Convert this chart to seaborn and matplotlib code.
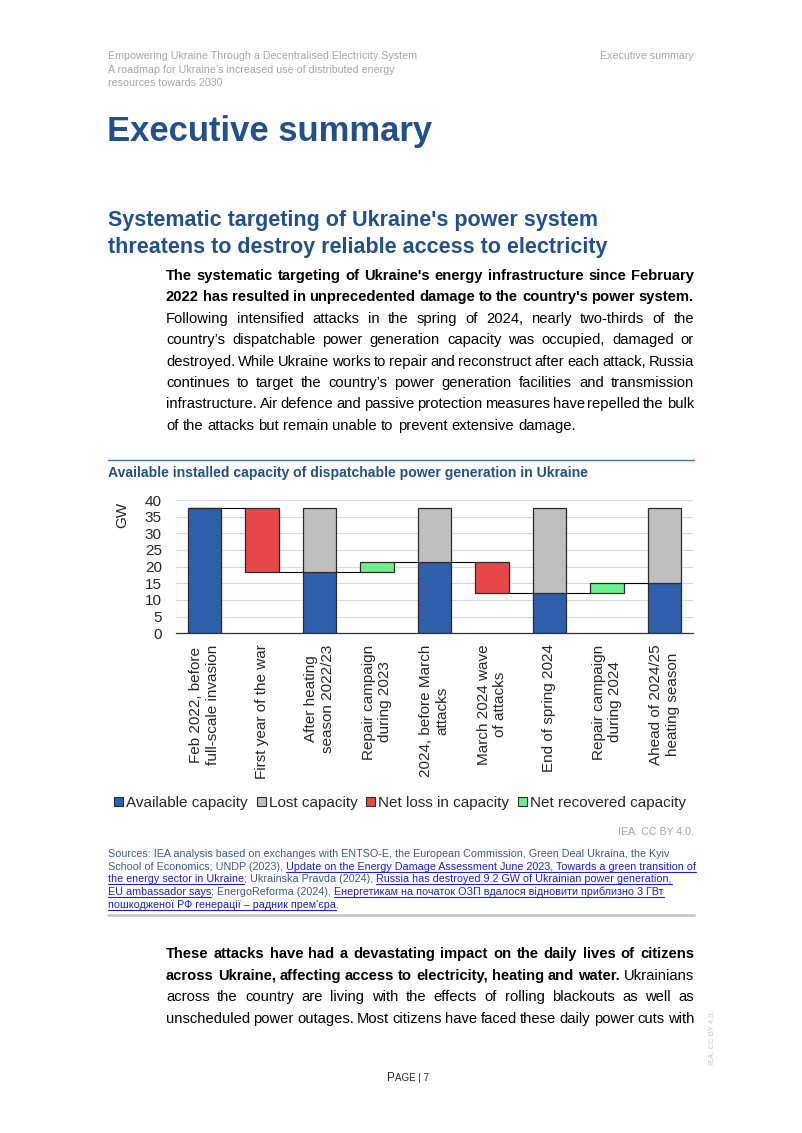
import numpy as np
import pandas as pd
import matplotlib
matplotlib.use("Agg")
import matplotlib.pyplot as plt
import matplotlib.patches as mpatches
import seaborn as sns

# ── Data ────────────────────────────────────────────────
categories = [
    "Feb 2022, before\nfull-scale invasion",
    "First year of the war",
    "After heating\nseason 2022/23",
    "Repair campaign\nduring 2023",
    "2024, before March\nattacks",
    "March 2024 wave\nof attacks",
    "End of spring 2024",
    "Repair campaign\nduring 2024",
    "Ahead of 2024/25\nheating season",
]
total_capacity = 37.6
# available capacity at each "state" column (None = change column)
available = [37.6, None, 18.4, None, 21.4, None, 12.2, None, 15.1]
# change columns: (bottom, top)
net_loss = {1: (18.4, 37.6), 5: (12.2, 21.4)}
net_recovered = {3: (18.4, 21.4), 7: (12.2, 15.1)}
yticks = [0, 5, 10, 15, 20, 25, 30, 35, 40]

legend_labels = ["Available capacity", "Lost capacity", "Net loss in capacity", "Net recovered capacity"]

# ── Style ───────────────────────────────────────────────
sns.set_theme(style="white")
plt.rcParams['font.family'] = ['Liberation Sans', 'DejaVu Sans']
BLUE_T = "#24508a"
C_AVAIL = "#2f5fab"
C_LOST = "#bfbfbf"
C_LOSS = "#e84849"
C_REC = "#6cf08e"
EDGE = "#2b2b2b"
GREY_T = "#a6a6a6"
BODY = 10.6

W, H = 802, 1133
fig = plt.figure(figsize=(W / 100, H / 100), dpi=100)
fig.patch.set_facecolor("white")
page = fig.add_axes([0, 0, 1, 1])
page.set_xlim(0, W)
page.set_ylim(H, 0)
page.axis("off")
renderer = fig.canvas.get_renderer()


def text_width(t):
    return t.get_window_extent(renderer).width


def put_line(runs, x0, x1, y, size, justify=True, color="black"):
    words = []
    for txt, weight in runs:
        for w in txt.split():
            words.append((w, weight))
    arts = [page.text(x0, y, w, fontsize=size, fontweight=wt, color=color,
                      va="baseline", ha="left") for w, wt in words]
    widths = [text_width(a) for a in arts]
    if justify and len(words) > 1:
        gap = (x1 - x0 - sum(widths)) / (len(words) - 1)
    else:
        gap = size * 100 / 72 * 0.278
    x = x0
    for a, wd in zip(arts, widths):
        a.set_x(x)
        x += wd + gap


def put_runs(runs, x0, y, size):
    # runs drawn one after another; links get an underline
    x = x0
    for txt, kind in runs:
        col = "#2020d0" if kind == "link" else "#3f5b86"
        t = page.text(x, y, txt, fontsize=size, color=col, va="baseline", ha="left")
        wd = text_width(t)
        if kind == "link":
            page.plot([x, x + wd], [y + 1.8, y + 1.8], color=col, lw=0.8)
        x += wd


# ── Header ──────────────────────────────────────────────
HDR = 7.7
page.text(108, 59, "Empowering Ukraine Through a Decentralised Electricity System", fontsize=HDR, color=GREY_T, va="baseline")
page.text(108, 73, "A roadmap for Ukraine’s increased use of distributed energy", fontsize=HDR, color=GREY_T, va="baseline")
page.text(108, 86, "resources towards 2030", fontsize=HDR, color=GREY_T, va="baseline")
page.text(694, 59, "Executive summary", fontsize=HDR, color=GREY_T, va="baseline", ha="right")

page.text(107, 141, "Executive summary", fontsize=24.9, fontweight="bold", color=BLUE_T, va="baseline")
page.text(108, 226, "Systematic targeting of Ukraine's power system", fontsize=15.5, fontweight="bold", color=BLUE_T, va="baseline")
page.text(108, 252.5, "threatens to destroy reliable access to electricity", fontsize=15.5, fontweight="bold", color=BLUE_T, va="baseline")

# ── Paragraph 1 ─────────────────────────────────────────
para1 = [
    ([("The systematic targeting of Ukraine's energy infrastructure since February", "bold")], True),
    ([("2022 has resulted in unprecedented damage to the country's power system.", "bold")], True),
    ([("Following intensified attacks in the spring of 2024, nearly two-thirds of the", "normal")], True),
    ([("country’s dispatchable power generation capacity was occupied, damaged or", "normal")], True),
    ([("destroyed. While Ukraine works to repair and reconstruct after each attack, Russia", "normal")], True),
    ([("continues to target the country’s power generation facilities and transmission", "normal")], True),
    ([("infrastructure. Air defence and passive protection measures have repelled the bulk", "normal")], True),
    ([("of the attacks but remain unable to prevent extensive damage.", "normal")], False),
]
for k, (runs, just) in enumerate(para1):
    put_line(runs, 166, 694, 280 + 21.4 * k, BODY, justify=just)

# ── Chart ───────────────────────────────────────────────
page.plot([108, 694], [460, 460], color="#4f6f9f", lw=1)
page.text(108, 477, "Available installed capacity of dispatchable power generation in Ukraine",
          fontsize=10.1, fontweight="bold", color=BLUE_T, va="baseline")

ax = fig.add_axes([175.75 / W, 1 - 633.3 / H, (693.25 - 175.75) / W, (633.3 - 500) / H])
n = len(categories)
idx = list(range(n))
bw = 0.575

avail_df = pd.DataFrame({"cat": [categories[i] for i in idx if available[i] is not None],
                         "val": [available[i] for i in idx if available[i] is not None]})
lost_df = pd.DataFrame({"cat": avail_df["cat"], "val": total_capacity - avail_df["val"],
                        "bottom": avail_df["val"]})
loss_df = pd.DataFrame({"cat": [categories[i] for i in net_loss],
                        "val": [t - b for b, t in net_loss.values()],
                        "bottom": [b for b, t in net_loss.values()]})
rec_df = pd.DataFrame({"cat": [categories[i] for i in net_recovered],
                       "val": [t - b for b, t in net_recovered.values()],
                       "bottom": [b for b, t in net_recovered.values()]})

bar_kw = dict(order=categories, width=bw, edgecolor=EDGE, linewidth=0.9, errorbar=None, ax=ax)
sns.barplot(data=avail_df, x="cat", y="val", color=C_AVAIL, saturation=1, **bar_kw)
sns.barplot(data=lost_df, x="cat", y="val", bottom=lost_df["bottom"].values, color=C_LOST, saturation=1, **bar_kw)
sns.barplot(data=loss_df, x="cat", y="val", bottom=loss_df["bottom"].values, color=C_LOSS, saturation=1, **bar_kw)
sns.barplot(data=rec_df, x="cat", y="val", bottom=rec_df["bottom"].values, color=C_REC, saturation=1, **bar_kw)

# connector lines
levels = []
for i in idx:
    if available[i] is not None:
        levels.append(available[i])
    elif i in net_loss:
        levels.append(net_loss[i][0])
    else:
        levels.append(net_recovered[i][1])
for i in range(n - 1):
    ax.hlines(levels[i], i + bw / 2, i + 1 - bw / 2, color="black", lw=0.8, zorder=3)

ax.set_xlim(-0.5, n - 0.5)
ax.set_ylim(0, 40)
ax.set_yticks(yticks)
ax.set_yticklabels([str(v) for v in yticks], fontsize=11)
ax.yaxis.grid(True, color="#d9d9d9", lw=0.8)
ax.set_axisbelow(True)
for s in ["top", "right", "left"]:
    ax.spines[s].set_visible(False)
ax.spines["bottom"].set_color("#333333")
ax.spines["bottom"].set_linewidth(0.9)
ax.tick_params(axis="y", length=0, pad=10)
ax.tick_params(axis="x", length=0, pad=8)
ax.set_xlabel("")
ax.set_ylabel("")
ax.set_xticks(idx)
ax.set_xticklabels(categories, rotation=90, fontsize=11, ha="center", va="top", multialignment="center")
page.text(122, 515, "GW", fontsize=11, rotation=90, ha="center", va="center")

handles = [mpatches.Patch(facecolor=c, edgecolor=EDGE, linewidth=0.8, label=l)
           for c, l in zip([C_AVAIL, C_LOST, C_LOSS, C_REC], legend_labels)]
fig.legend(handles=handles, loc="center", bbox_to_anchor=(400 / W, 1 - 803 / H), ncol=4, frameon=False,
           fontsize=11, handlelength=0.6, handleheight=0.6, handletextpad=0.2, columnspacing=0.55)

page.text(694, 835, "IEA. CC BY 4.0.", fontsize=7.7, color=GREY_T, va="baseline", ha="right")

# ── Sources ─────────────────────────────────────────────
src = [
    [("Sources: IEA analysis based on exchanges with ENTSO-E, the European Commission, Green Deal Ukraina, the Kyiv", "plain")],
    [("School of Economics; UNDP (2023), ", "plain"),
     ("Update on the Energy Damage Assessment June 2023, Towards a green transition of", "link")],
    [("the energy sector in Ukraine", "link"), ("; Ukrainska Pravda (2024), ", "plain"),
     ("Russia has destroyed 9.2 GW of Ukrainian power generation,", "link")],
    [("EU ambassador says", "link"), ("; EnergoReforma (2024), ", "plain"),
     ("Енергетикам на початок ОЗП вдалося відновити приблизно 3 ГВт", "link")],
    [("пошкодженої РФ генерації – радник прем'єра", "link"), (".", "plain")],
]
for k, runs in enumerate(src):
    put_runs(runs, 108, 857 + 12.7 * k, 7.75)
page.plot([108, 694], [915, 915], color="#c8c8c8", lw=2)

# ── Paragraph 2 ─────────────────────────────────────────
para2 = [
    [("These attacks have had a devastating impact on the daily lives of citizens", "bold")],
    [("across Ukraine, affecting access to electricity, heating and water.", "bold"), ("Ukrainians", "normal")],
    [("across the country are living with the effects of rolling blackouts as well as", "normal")],
    [("unscheduled power outages. Most citizens have faced these daily power cuts with", "normal")],
]
for k, runs in enumerate(para2):
    put_line(runs, 166, 694, 958 + 21.7 * k, BODY)

# ── Footer ──────────────────────────────────────────────
page.text(713, 1038, "IEA. CC BY 4.0.", fontsize=5.5, color="#c8c8c8", rotation=90, ha="center", va="center")
p1 = page.text(387, 1081, "P", fontsize=8.5, va="baseline", ha="left")
x_after = 387 + text_width(p1)
page.text(x_after, 1081, "AGE | 7", fontsize=7, va="baseline", ha="left")

fig.savefig("out.png", dpi=100, facecolor="white")
